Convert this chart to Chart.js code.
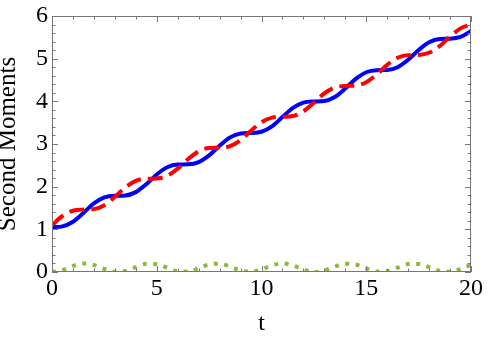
<!DOCTYPE html>
<html>
<head>
<meta charset="utf-8">
<script src="https://cdn.jsdelivr.net/npm/chart.js@4/dist/chart.umd.min.js"></script>
<style>
  html, body { margin: 0; padding: 0; background: #fff; }
  #wrap { width: 488px; height: 341px; }
</style>
</head>
<body>
<div id="wrap"><canvas id="moments" width="488" height="341"></canvas></div>
<script>
// sample times (step 0.5)
const times = [0, 0.5, 1, 1.5, 2, 2.5, 3, 3.5, 4, 4.5, 5, 5.5, 6, 6.5, 7, 7.5, 8, 8.5, 9, 9.5,
  10, 10.5, 11, 11.5, 12, 12.5, 13, 13.5, 14, 14.5, 15, 15.5, 16, 16.5, 17, 17.5, 18, 18.5, 19, 19.5, 20];

const blueSolid = [1.05, 1.069, 1.178, 1.385, 1.608, 1.748, 1.786, 1.793, 1.872, 2.057,
  2.286, 2.456, 2.519, 2.524, 2.575, 2.732, 2.959, 3.155, 3.248, 3.259,
  3.287, 3.413, 3.630, 3.845, 3.969, 3.996, 4.008, 4.102, 4.300, 4.527,
  4.682, 4.731, 4.736, 4.800, 4.973, 5.202, 5.385, 5.462, 5.469, 5.508, 5.651];

const redDashed = [1.10, 1.312, 1.436, 1.462, 1.474, 1.566, 1.760, 1.983, 2.137, 2.186,
  2.191, 2.254, 2.422, 2.648, 2.829, 2.905, 2.912, 2.950, 3.090, 3.309,
  3.512, 3.619, 3.637, 3.655, 3.764, 3.969, 4.187, 4.325, 4.361, 4.369,
  4.447, 4.629, 4.855, 5.022, 5.083, 5.088, 5.138, 5.294, 5.518, 5.710, 5.800];

const greenDotted = [0, 0.046, 0.142, 0.199, 0.165, 0.072, 0.004, 0.025, 0.115, 0.191,
  0.184, 0.100, 0.016, 0.009, 0.086, 0.176, 0.196, 0.128, 0.034, 0.001,
  0.059, 0.155, 0.200, 0.153, 0.058, 0.001, 0.035, 0.129, 0.196, 0.175,
  0.085, 0.009, 0.017, 0.101, 0.185, 0.190, 0.113, 0.023, 0.004, 0.073, 0.167];

const xTicks = [0, 5, 10, 15, 20];
const yTicks = [0, 1, 2, 3, 4, 5, 6];

const pts = ys => times.map((t, i) => ({ x: t, y: ys[i] }));

Chart.defaults.font.family = '"Liberation Serif", "Times New Roman", serif';
Chart.defaults.font.size = 24;
Chart.defaults.color = '#000';

// mathematica style frame with inward ticks on all four sides
const frameTicks = {
  id: 'frameTicks',
  afterDraw(chart) {
    const { ctx, chartArea: a, scales: { x, y } } = chart;
    ctx.save();
    ctx.strokeStyle = '#777';
    ctx.lineWidth = 1;
    ctx.strokeRect(Math.round(a.left) + 0.5, Math.round(a.top) + 0.5,
      Math.round(a.right - a.left) - 1, Math.round(a.bottom - a.top) - 1);
    ctx.beginPath();
    for (let v = 0; v <= 20; v += 1) {
      const px = Math.round(x.getPixelForValue(v)) + 0.5;
      const len = v % 5 === 0 ? 6 : 3.5;
      ctx.moveTo(px, a.bottom); ctx.lineTo(px, a.bottom - len);
      ctx.moveTo(px, a.top); ctx.lineTo(px, a.top + len);
    }
    for (let k = 0; k <= 30; k++) {
      const py = Math.round(y.getPixelForValue(k / 5)) + 0.5;
      const len = k % 5 === 0 ? 6 : 3.5;
      ctx.moveTo(a.left, py); ctx.lineTo(a.left + len, py);
      ctx.moveTo(a.right, py); ctx.lineTo(a.right - len, py);
    }
    ctx.stroke();
    ctx.restore();
  }
};

new Chart(document.getElementById('moments'), {
  type: 'line',
  data: {
    datasets: [
      { data: pts(blueSolid), borderColor: '#0000ff', borderWidth: 4, order: 2 },
      { data: pts(redDashed), borderColor: '#ff0000', borderWidth: 4, borderDash: [15, 7], order: 1 },
      { data: pts(greenDotted), borderColor: '#8db83e', borderWidth: 4, borderDash: [4, 6.5], order: 0 }
    ]
  },
  options: {
    responsive: false,
    animation: false,
    layout: { padding: { top: 13, right: 16, left: 0, bottom: 0 } },
    elements: {
      point: { radius: 0 },
      line: { cubicInterpolationMode: 'monotone', fill: false }
    },
    plugins: { legend: { display: false }, tooltip: { enabled: false } },
    scales: {
      x: {
        type: 'linear', min: 0, max: 20,
        afterFit: s => { s.height = 69; },
        afterBuildTicks: s => { s.ticks = xTicks.map(v => ({ value: v })); },
        grid: { display: false, drawTicks: false },
        border: { display: false },
        ticks: { padding: 5, maxRotation: 0, font: { size: 24, lineHeight: 1 } },
        title: { display: true, text: 't', padding: { top: 0, bottom: 3 },
          font: { size: 24, lineHeight: 1.2 } }
      },
      y: {
        min: 0, max: 6,
        afterFit: s => { s.width = 52; },
        afterBuildTicks: s => { s.ticks = yTicks.map(v => ({ value: v })); },
        grid: { display: false, drawTicks: false },
        border: { display: false },
        ticks: { padding: 4, font: { size: 24, lineHeight: 1 } },
        title: { display: true, text: 'Second Moments', padding: 0,
          font: { size: 25, lineHeight: 0.67 } }
      }
    }
  },
  plugins: [frameTicks]
});
</script>
</body>
</html>
